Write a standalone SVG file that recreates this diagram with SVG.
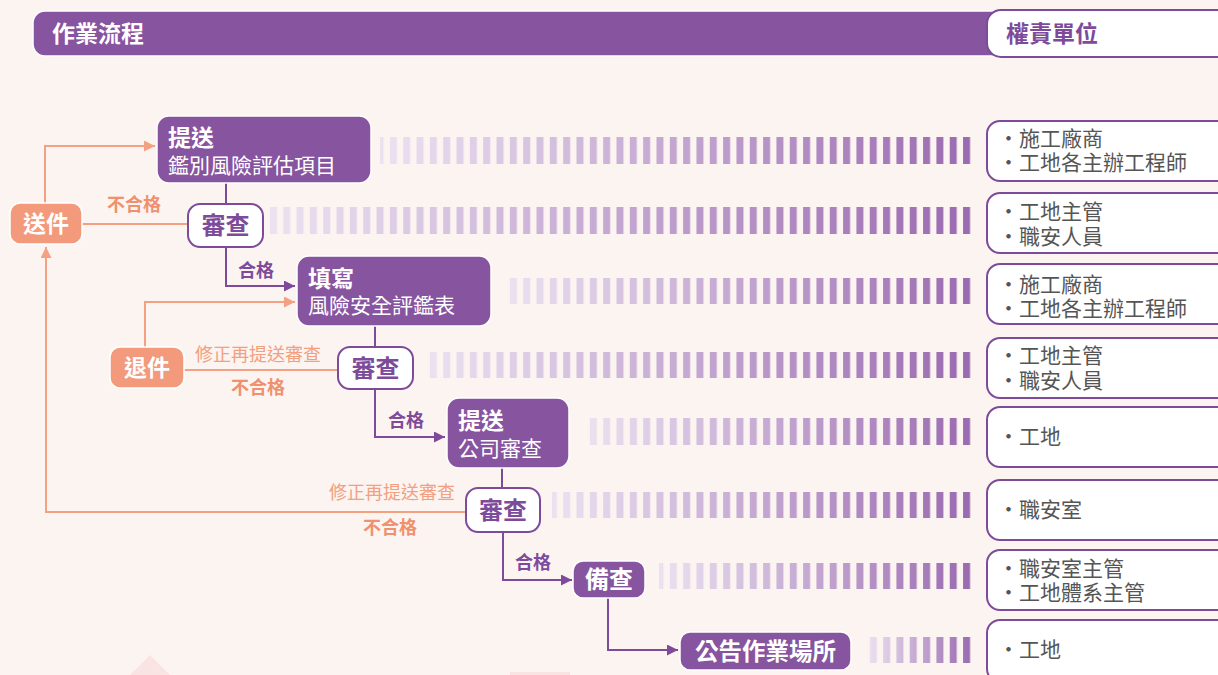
<svg xmlns="http://www.w3.org/2000/svg" width="1218" height="675" viewBox="0 0 1218 675">
<defs>
<style>
.cjk{font-family:"Noto Sans CJK TC","Noto Sans CJK SC",sans-serif}
.lat{font-family:"Liberation Sans","Noto Sans CJK TC","Noto Sans CJK SC",sans-serif}
.pbox{fill:#87549F;stroke:#ffffff;stroke-width:1.5}
.wbox{fill:#ffffff;stroke:#7E4B9B;stroke-width:2}
.sbox{fill:#F29A7B;stroke:#ffffff;stroke-width:1.5}
.wt{fill:#ffffff;font-weight:700}
.wsub{fill:#ffffff;font-weight:400}
.pt{fill:#7E4B9B;font-weight:700}
.rt{fill:#555555;font-size:21px}
.sl{fill:#F0906E;font-weight:700;font-size:18px}
.sn{fill:#F2A080;font-weight:400;font-size:18px}
.pl{fill:#7E4B9B;font-weight:700;font-size:18px}
.lp{fill:none;stroke:#7E4B9B;stroke-width:2}
.ls{fill:none;stroke:#F4A183;stroke-width:2}
.rbox{fill:#ffffff;stroke:#7E4B9B;stroke-width:2}
</style>
<marker id="ap" markerUnits="userSpaceOnUse" markerWidth="11" markerHeight="11" refX="10" refY="5" orient="auto" viewBox="0 0 10 10"><path d="M0,0 L10,5 L0,10 z" fill="#7E4B9B"/></marker>
<marker id="as" markerUnits="userSpaceOnUse" markerWidth="11" markerHeight="11" refX="10" refY="5" orient="auto" viewBox="0 0 10 10"><path d="M0,0 L10,5 L0,10 z" fill="#F4A183"/></marker>
<linearGradient id="fade" x1="0" y1="0" x2="1" y2="0">
<stop offset="0" stop-color="#EBE2F1"/>
<stop offset="1" stop-color="#9A6AB0"/>
</linearGradient>
<pattern id="stripes" patternUnits="userSpaceOnUse" x="3.3" y="0" width="13.33" height="675">
<rect x="0" y="0" width="7" height="675" fill="#ffffff"/>
</pattern>
<mask id="stripeMask" maskUnits="userSpaceOnUse" x="0" y="0" width="1218" height="675">
<rect x="0" y="0" width="1218" height="675" fill="url(#stripes)"/>
</mask>
</defs>

<rect x="0" y="0" width="1218" height="675" fill="#FCF4F1"/>
<polygon points="150,655 170,675 130,675" fill="#FAE4E3"/>
<rect x="510" y="672" width="60" height="3" fill="#FAE4E3"/>

<g id="header">
<rect x="33" y="11" width="990" height="45" rx="12" fill="#87549F" stroke="#ffffff" stroke-width="1.5"/>
<text class="cjk wt" x="52" y="42" font-size="23">作業流程</text>
<rect x="987" y="10" width="250" height="47" rx="14" fill="#ffffff" stroke="#7E4B9B" stroke-width="2"/>
<text class="cjk pt" x="1006" y="42" font-size="23">權責單位</text>
</g>

<g id="bars" mask="url(#stripeMask)">
<rect x="380" y="137" width="592" height="27" fill="url(#fade)"/>
<rect x="270" y="207" width="702" height="27" fill="url(#fade)"/>
<rect x="505" y="278" width="467" height="26" fill="url(#fade)"/>
<rect x="425" y="352" width="547" height="26" fill="url(#fade)"/>
<rect x="585" y="418" width="387" height="27" fill="url(#fade)"/>
<rect x="552" y="492" width="420" height="26" fill="url(#fade)"/>
<rect x="659" y="563" width="313" height="26" fill="url(#fade)"/>
<rect x="867" y="637" width="105" height="26" fill="url(#fade)"/>
</g>

<g id="connectors">
<path class="ls" d="M45,203 V146 H155" marker-end="url(#as)"/>
<path class="ls" d="M188,224 H82"/>
<path class="lp" d="M226,183 V204"/>
<path class="lp" d="M226,247 V286 H295" marker-end="url(#ap)"/>
<path class="ls" d="M145,347 V302 H295" marker-end="url(#as)"/>
<path class="ls" d="M338,370 H184"/>
<path class="lp" d="M375,326 V347"/>
<path class="lp" d="M375,389 V437 H445" marker-end="url(#ap)"/>
<path class="lp" d="M502,468 V488"/>
<path class="ls" d="M466,512 H46 V247" marker-end="url(#as)"/>
<path class="lp" d="M503,532 V580 H572" marker-end="url(#ap)"/>
<path class="lp" d="M608,598 V650 H678" marker-end="url(#ap)"/>
<text class="cjk sl" x="134" y="211" text-anchor="middle">不合格</text>
<text class="cjk pl" x="256" y="277" text-anchor="middle">合格</text>
<text class="cjk sn" x="258" y="361" text-anchor="middle">修正再提送審查</text>
<text class="cjk sl" x="258" y="394" text-anchor="middle">不合格</text>
<text class="cjk pl" x="406" y="427" text-anchor="middle">合格</text>
<text class="cjk sn" x="455" y="499" text-anchor="end">修正再提送審查</text>
<text class="cjk sl" x="390" y="534" text-anchor="middle">不合格</text>
<text class="cjk pl" x="533" y="569" text-anchor="middle">合格</text>
</g>

<g id="node-send">
<rect class="sbox" x="10" y="203" width="72" height="41" rx="10"/>
<text class="cjk wt" x="46" y="232" font-size="23" text-anchor="middle">送件</text>
</g>
<g id="node-return">
<rect class="sbox" x="110" y="347" width="74" height="41" rx="10"/>
<text class="cjk wt" x="147" y="376" font-size="23" text-anchor="middle">退件</text>
</g>

<g id="node-submit1">
<rect class="pbox" x="157" y="116" width="214" height="67" rx="12"/>
<text class="lat" x="168" y="146"><tspan class="wt" font-size="23">提送</tspan><tspan class="wsub" x="168" y="173" font-size="21">鑑別風險評估項目</tspan></text>
</g>
<g id="node-review1">
<rect class="wbox" x="188" y="204" width="75" height="43" rx="12"/>
<text class="cjk pt" x="225.5" y="234" font-size="24" text-anchor="middle">審查</text>
</g>
<g id="node-fill">
<rect class="pbox" x="297" y="256" width="194" height="70" rx="12"/>
<text class="lat" x="308" y="287"><tspan class="wt" font-size="23">填寫</tspan><tspan class="wsub" x="308" y="313" font-size="21">風險安全評鑑表</tspan></text>
</g>
<g id="node-review2">
<rect class="wbox" x="338" y="347" width="75" height="42" rx="12"/>
<text class="cjk pt" x="375.5" y="377" font-size="24" text-anchor="middle">審查</text>
</g>
<g id="node-submit2">
<rect class="pbox" x="447" y="398" width="122" height="70" rx="12"/>
<text class="lat" x="458" y="429"><tspan class="wt" font-size="23">提送</tspan><tspan class="wsub" x="458" y="456" font-size="21">公司審查</tspan></text>
</g>
<g id="node-review3">
<rect class="wbox" x="466" y="488" width="74" height="44" rx="12"/>
<text class="cjk pt" x="503" y="519" font-size="24" text-anchor="middle">審查</text>
</g>
<g id="node-file">
<rect class="pbox" x="573" y="561" width="72" height="37" rx="10"/>
<text class="cjk wt" x="609" y="588" font-size="24" text-anchor="middle">備查</text>
</g>
<g id="node-announce">
<rect class="pbox" x="680" y="632" width="171" height="38" rx="10"/>
<text class="cjk wt" x="765.5" y="660" font-size="23.5" text-anchor="middle">公告作業場所</text>
</g>

<g id="resp-1">
<rect class="rbox" x="987" y="121" width="250" height="60" rx="13"/>
<text class="lat rt" x="998" y="146">・施工廠商<tspan x="998" y="170">・工地各主辦工程師</tspan></text>
</g>
<g id="resp-2">
<rect class="rbox" x="987" y="193" width="250" height="60" rx="13"/>
<text class="lat rt" x="998" y="219">・工地主管<tspan x="998" y="244">・職安人員</tspan></text>
</g>
<g id="resp-3">
<rect class="rbox" x="987" y="264" width="250" height="60" rx="13"/>
<text class="lat rt" x="998" y="292">・施工廠商<tspan x="998" y="316">・工地各主辦工程師</tspan></text>
</g>
<g id="resp-4">
<rect class="rbox" x="987" y="338" width="250" height="60" rx="13"/>
<text class="lat rt" x="998" y="363">・工地主管<tspan x="998" y="388">・職安人員</tspan></text>
</g>
<g id="resp-5">
<rect class="rbox" x="987" y="407" width="250" height="60" rx="13"/>
<text class="cjk rt" x="998" y="444">・工地</text>
</g>
<g id="resp-6">
<rect class="rbox" x="987" y="480" width="250" height="60" rx="13"/>
<text class="cjk rt" x="998" y="517">・職安室</text>
</g>
<g id="resp-7">
<rect class="rbox" x="987" y="550" width="250" height="60" rx="13"/>
<text class="lat rt" x="998" y="576">・職安室主管<tspan x="998" y="600">・工地體系主管</tspan></text>
</g>
<g id="resp-8">
<rect class="rbox" x="987" y="620" width="250" height="62" rx="13"/>
<text class="cjk rt" x="998" y="657">・工地</text>
</g>
</svg>
